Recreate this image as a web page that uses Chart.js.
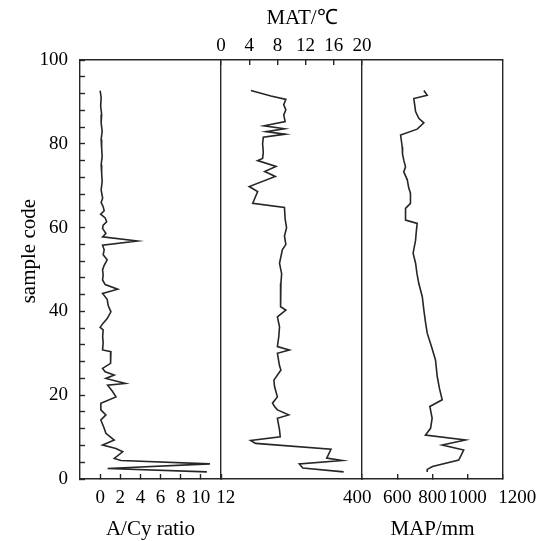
<!DOCTYPE html>
<html>
<head>
<meta charset="utf-8">
<script src="https://cdn.jsdelivr.net/npm/chart.js@4/dist/chart.umd.min.js"></script>
<style>
  html, body { margin: 0; padding: 0; background: #fff; }
  canvas { display: block; }
</style>
</head>
<body>
<canvas id="perfil" width="550" height="541"></canvas>
<script>
// muestras (sample code) y valores de cada curva
const muestraAcy = [92.7, 91, 89, 87, 85, 83, 81, 79, 77, 75, 73, 71, 69, 67, 66, 65, 64.0, 63.2, 62.3, 61.4, 60.6, 59.8, 58.6, 57.8, 56.8, 55.8, 54.7, 53.5, 52.3, 51.0, 49.9, 48.7, 47.5, 46.4, 45.3, 44.3, 42.9, 41.4, 39.9, 38.3, 37.2, 36.2, 35.6, 34, 32.5, 30.8, 30.4, 29, 27.6, 26.4, 25.6, 24.8, 24.0, 22.8, 22.4, 21.0, 19.6, 18.1, 16.5, 15.3, 14.1, 12.1, 10.9, 9.3, 8.1, 7.3, 6.5, 4.9, 4.4, 3.6, 2.5, 1.7];
const valorAcy = [0.0, 0.1, 0.05, 0.15, 0.1, 0.2, 0.1, 0.15, 0.2, 0.1, 0.15, 0.2, 0.1, 0.25, 0.1, 0.3, 0.4, 0.05, 0.5, 0.65, 0.3, 0.24, 0.57, 0.24, 3.7, 0.24, 0.4, 0.3, 0.7, 0.4, 0.24, 0.3, 0.24, 0.5, 1.74, 0.24, 0.7, 0.8, 1.07, 0.7, 0.3, 0.0, 0.3, 0.25, 0.3, 0.24, 1.07, 1.0, 1.07, 0.24, 0.5, 1.4, 0.57, 2.5, 0.74, 1.2, 1.57, 0.07, 0.07, 0.57, 0.07, 0.4, 0.57, 1.4, 0.24, 1.57, 2.24, 1.4, 2.07, 10.9, 0.74, 10.6];

const muestraMat = [92.7, 91.4, 90.6, 89.3, 88.1, 86.9, 85.3, 84.3, 83.6, 82.9, 82.3, 81.6, 80, 78, 76.5, 76.0, 74.6, 73.4, 72.2, 69.8, 68.6, 67.0, 65.8, 64.8, 62, 60, 58, 56, 54.7, 51.5, 49, 46.7, 44, 41.1, 40.3, 38.7, 36.3, 34, 31.6, 30.8, 30.0, 27, 26, 23.6, 22.0, 19.6, 18.1, 17.3, 16.5, 15.3, 14.5, 11.7, 10.1, 9.2, 8.5, 7.1, 5.0, 4.4, 3.6, 2.6, 1.7];
const valorMat = [4.24, 7.08, 9.2, 8.9, 9.2, 8.9, 9.1, 6.1, 9.0, 6.4, 9.1, 6.0, 5.9, 6.0, 5.9, 5.2, 7.8, 6.2, 7.7, 4.0, 5.2, 4.8, 4.5, 9.0, 9.1, 9.3, 9.0, 9.2, 8.7, 8.3, 8.6, 8.5, 8.4, 8.5, 9.2, 8.0, 8.3, 8.2, 8.0, 9.7, 8.0, 8.3, 8.5, 7.5, 7.6, 8.0, 7.3, 7.6, 8.0, 9.6, 8.0, 8.3, 8.4, 4.2, 4.9, 15.6, 15.0, 17.2, 11.1, 11.6, 17.4];

const muestraMap = [92.7, 91.6, 90.8, 89, 87.7, 86.1, 85.0, 83.5, 82.1, 79.3, 77.5, 76.1, 74.5, 73.3, 71.4, 69.5, 68.2, 65.8, 64.6, 61.8, 61.0, 59, 57.0, 53.9, 51.5, 49, 46.7, 43.5, 40.3, 37.5, 34.8, 31.5, 28.4, 24.4, 21.5, 18.9, 17.3, 14.5, 12.1, 10.5, 9.3, 8.1, 6.9, 4.5, 3.0, 2.3, 1.7];
const valorMap = [751, 770, 694, 700, 704, 722, 751, 713, 619, 628, 630, 637, 647, 637, 657, 665, 675, 675, 647, 647, 713, 708, 704, 690, 704, 712, 722, 742, 751, 760, 770, 795, 817, 827, 840, 855, 785, 798, 789, 760, 987, 855, 977, 949, 800, 770, 770];

// marcas de los ejes
const ticksMuestra = [0, 20, 40, 60, 80, 100];
const ticksAcy = [0, 2, 4, 6, 8, 10, 12];
const ticksMat = [0, 4, 8, 12, 16, 20];
const ticksMap = [400, 600, 800, 1000, 1200];

const colorMarco = '#262626';
const colorTexto = '#000';
const grosor = 1.4;
const sinColor = 'rgba(0,0,0,0)';

Chart.defaults.font.family = "'Liberation Serif', 'Times New Roman', serif";
Chart.defaults.color = colorTexto;

const aPuntos = (muestras, valores) => muestras.map((m, i) => ({ x: valores[i], y: m }));

const estiloLinea = {
    borderColor: colorMarco,
    borderWidth: 1.6,
    pointRadius: 0,
    tension: 0,
    fill: false,
};

const ctx = document.getElementById('perfil').getContext('2d');

new Chart(ctx, {
    type: 'line',
    data: {
        datasets: [
            { label: 'A/Cy', data: aPuntos(muestraAcy, valorAcy), xAxisID: 'x1', yAxisID: 'y', ...estiloLinea },
            { label: 'MAT', data: aPuntos(muestraMat, valorMat), xAxisID: 't2', yAxisID: 'y', ...estiloLinea },
            { label: 'MAP', data: aPuntos(muestraMap, valorMap), xAxisID: 'x3', yAxisID: 'y', ...estiloLinea },
        ],
    },
    options: {
        responsive: false,
        animation: false,
        indexAxis: 'y',
        layout: { padding: { left: 0, right: 47, top: 0, bottom: 0 } },
        plugins: {
            legend: { display: false },
            tooltip: { enabled: false },
        },
        scales: {
            y: {
                type: 'linear',
                position: 'left',
                min: 0,
                max: 100,
                afterFit: (eje) => { eje.width = 80; },
                border: { display: true, color: colorMarco, width: grosor },
                grid: { drawOnChartArea: false, tickLength: -5, tickColor: colorMarco, tickWidth: grosor },
                ticks: {
                    stepSize: 4,
                    autoSkip: false,
                    padding: 17,
                    font: { size: 19 },
                    callback: (v) => ticksMuestra.includes(v) ? String(v) : '',
                },
                title: {
                    display: true,
                    text: '\u2002\u2002\u2002 sample code',
                    font: { size: 21 },
                    padding: { top: 17, bottom: 0 },
                },
            },
            t2: {
                type: 'linear',
                axis: 'x',
                position: 'top',
                min: -20,
                max: 40,
                afterBuildTicks: (eje) => { eje.ticks = ticksMat.map(v => ({ value: v })); },
                afterFit: (eje) => { eje.height = 60; },
                border: { display: true, color: colorMarco, width: grosor },
                grid: {
                    color: (c) => (c.tick && (c.tick.value === 0 || c.tick.value === 20)) ? colorMarco : sinColor,
                    lineWidth: grosor,
                    tickLength: -5,
                    tickColor: colorMarco,
                    tickWidth: grosor,
                },
                ticks: { autoSkip: false, maxRotation: 0, minRotation: 0, padding: 8, font: { size: 19 } },
                title: {
                    display: true,
                    text: '\u2002\u2002MAT/\u2103',
                    font: { size: 21 },
                    padding: { top: 6, bottom: 0 },
                },
            },
            x1: {
                type: 'linear',
                axis: 'x',
                position: 'bottom',
                stack: 'abajo',
                stackWeight: 1,
                min: -2,
                max: 12,
                afterBuildTicks: (eje) => { eje.ticks = ticksAcy.map(v => ({ value: v })); },
                afterFit: (eje) => { eje.height = 62; },
                border: { display: true, color: colorMarco, width: grosor },
                grid: { drawOnChartArea: false, tickLength: -5, tickColor: colorMarco, tickWidth: grosor },
                ticks: {
                    autoSkip: false, maxRotation: 0, minRotation: 0, padding: 13, font: { size: 19 },
                    callback: (v) => v === 12 ? '\u200212' : String(v),
                },
                title: {
                    display: true,
                    text: 'A/Cy ratio',
                    font: { size: 21 },
                    padding: { top: 0, bottom: -1 },
                },
            },
            x2: {
                type: 'linear',
                axis: 'x',
                position: 'bottom',
                stack: 'abajo',
                stackWeight: 1,
                min: 0,
                max: 1,
                afterFit: (eje) => { eje.height = 62; },
                border: { display: true, color: colorMarco, width: grosor },
                grid: { display: false },
                ticks: { display: false },
            },
            x3: {
                type: 'linear',
                axis: 'x',
                position: 'bottom',
                stack: 'abajo',
                stackWeight: 1,
                min: 400,
                max: 1200,
                afterBuildTicks: (eje) => { eje.ticks = ticksMap.map(v => ({ value: v })); },
                afterFit: (eje) => { eje.height = 62; },
                border: { display: true, color: colorMarco, width: grosor },
                grid: {
                    color: (c) => (c.tick && c.tick.value === 1200) ? colorMarco : sinColor,
                    lineWidth: grosor,
                    tickLength: -5,
                    tickColor: colorMarco,
                    tickWidth: grosor,
                },
                ticks: {
                    autoSkip: false, maxRotation: 0, minRotation: 0, padding: 13, font: { size: 19 },
                    callback: (v) => v === 400 ? '400\u2002' : v === 1200 ? '\u2002\u2002\u20021200' : String(v),
                },
                title: {
                    display: true,
                    text: 'MAP/mm',
                    font: { size: 21 },
                    padding: { top: 0, bottom: -1 },
                },
            },
        },
    },
});
</script>
</body>
</html>
